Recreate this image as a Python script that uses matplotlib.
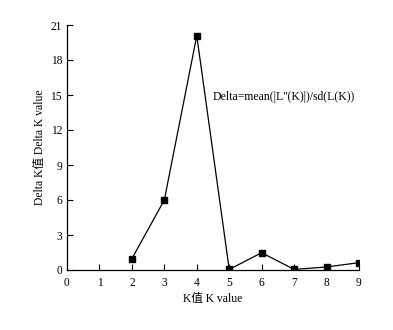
import matplotlib
matplotlib.use("Agg")
import matplotlib.pyplot as plt

k_values = [2, 3, 4, 5, 6, 7, 8, 9]
delta_k = [0.97, 6.0, 20.08, 0.05, 1.48, 0.05, 0.26, 0.63]
x_ticks = [0, 1, 2, 3, 4, 5, 6, 7, 8, 9]
y_ticks = [0, 3, 6, 9, 12, 15, 18, 21]

fam = ['Liberation Serif', 'Noto Sans CJK SC']
plt.rcParams['font.family'] = fam
plt.rcParams['font.size'] = 8

fig = plt.figure(figsize=(3.93, 3.3), dpi=100)
ax = fig.add_axes([67/393, 60/330, (359-67)/393, (270-25)/330])
ax.plot(k_values, delta_k, color='black', lw=0.9, marker='s', markersize=4)
ax.set_xlim(0, 9)
ax.set_ylim(0, 21)
ax.set_xticks(x_ticks)
ax.set_yticks(y_ticks)
for s in ['top', 'right']:
    ax.spines[s].set_visible(False)
for s in ['left', 'bottom']:
    ax.spines[s].set_linewidth(0.9)
ax.tick_params(direction='in', length=4, width=0.8, labelsize=8.3)
ax.tick_params(axis='x', pad=5)
ax.set_xlabel('K值 K value', fontsize=8.4, labelpad=3)
ax.set_ylabel('Delta K值 Delta K value', fontsize=8.4, labelpad=3)
ax.text(4.5, 14.85, "Delta=mean(|L''(K)|)/sd(L(K))", fontsize=8.5, va='center', ha='left')
fig.savefig('out.png', dpi=100)
